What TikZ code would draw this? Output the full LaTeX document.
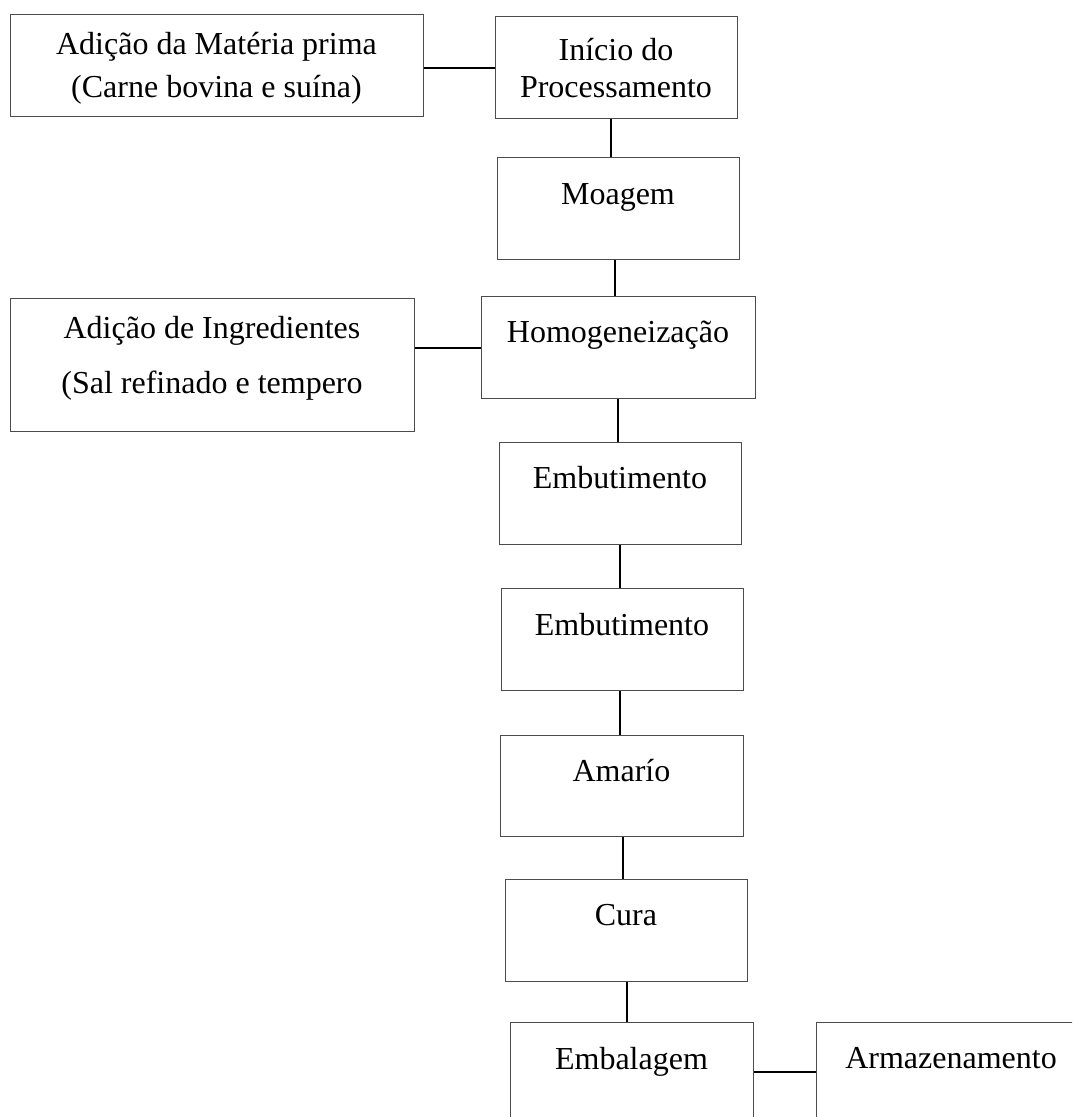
\documentclass[tikz,border=0pt]{standalone}
\usepackage{fontspec}
\setmainfont{Liberation Serif}
\usepackage{tikz}

\begin{document}
\begin{tikzpicture}[x=1pt,y=-1pt,
	font=\fontsize{32}{38}\selectfont,
	etapa/.style={draw=black!70,line width=1pt,inner sep=0pt,anchor=north,
	              align=flush center,text width=242pt,text height=46pt,text depth=56pt},
	liga/.style={draw=black,line width=2pt}]
	\useasboundingbox (0,0) rectangle (1072,1117);
	\clip (0,0) rectangle (1072,1117);
	% left hand
	\node[etapa,text width=413pt,text height=40pt,text depth=62pt,
	      font=\fontsize{32}{43}\selectfont] (materia) at (216.5,14)
	      {Adição da Matéria prima\\(Carne bovina e suína)};
	\node[etapa,text width=404pt,text height=40pt,text depth=93pt,
	      font=\fontsize{32}{55}\selectfont] (ingred) at (212,298)
	      {Adição de Ingredientes\\(Sal refinado e tempero};
	% main column
	\node[etapa,text height=44pt,text depth=58pt,
	      font=\fontsize{32}{37}\selectfont] (inicio) at (616,16)
	      {Início do\\Processamento};
	\node[etapa,text height=47pt,text depth=55pt] (moagem) at (618,157) {Moagem};
	\node[etapa,text width=274pt] (homog) at (618,296) {Homogeneização};
	\node[etapa] (embut1) at (620,442) {Embutimento};
	\node[etapa,text height=47pt,text depth=55pt] (embut2) at (622,588) {Embutimento};
	\node[etapa,text width=243pt,text depth=55pt] (amario) at (621.5,735) {Amarío};
	\node[etapa] (cura) at (626,879) {Cura};
	\node[etapa,text width=243pt,text height=47pt,text depth=55pt] (embal) at (631.5,1022) {Embalagem};
	% right hand
	\node[etapa,text width=270pt] (armaz) at (951,1022) {Armazenamento};
	% links
	\draw[liga] ([yshift=-2pt]materia.east) -- ([yshift=-2pt]materia.east -| inicio.west);
	\draw[liga] ([xshift=-5pt]inicio.south) -- ([xshift=-5pt]inicio.south |- moagem.north);
	\draw[liga] ([xshift=-3pt]moagem.south) -- ([xshift=-3pt]moagem.south |- homog.north);
	\draw[liga] (homog.west -| ingred.east) -- (homog.west);
	\draw[liga] (homog.south) -- (homog.south |- embut1.north);
	\draw[liga] (embut1.south) -- (embut1.south |- embut2.north);
	\draw[liga] ([xshift=-2pt]embut2.south) -- ([xshift=-2pt]embut2.south |- amario.north);
	\draw[liga] ([xshift=1.5pt]amario.south) -- ([xshift=1.5pt]amario.south |- cura.north);
	\draw[liga] ([xshift=1pt]cura.south) -- ([xshift=1pt]cura.south |- embal.north);
	\draw[liga] ([yshift=2pt]embal.east) -- ([yshift=2pt]embal.east -| armaz.west);
\end{tikzpicture}
\end{document}
